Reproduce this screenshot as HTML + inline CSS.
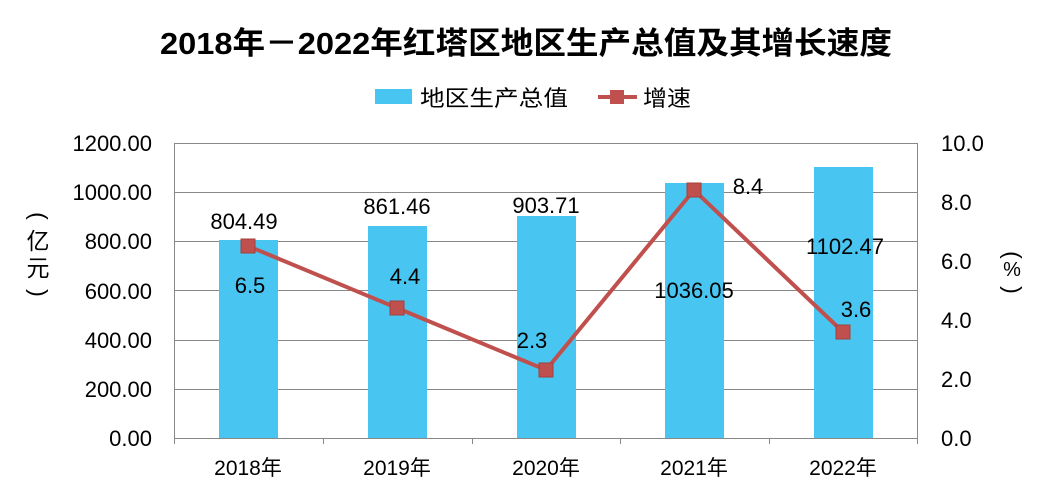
<!DOCTYPE html>
<html><head><meta charset="utf-8"><style>
html,body{margin:0;padding:0;background:#fff}
svg{display:block}
text{font-family:"Liberation Sans","Noto Sans CJK SC",sans-serif;fill:#000}
</style></head><body>
<svg width="1056" height="500" xmlns="http://www.w3.org/2000/svg">
<text x="160" y="54" font-size="31" font-weight="bold" textLength="732" lengthAdjust="spacingAndGlyphs">2018年－2022年红塔区地区生产总值及其增长速度</text>
<rect x="375" y="89" width="37" height="15" fill="#49C5F1"/>
<text x="420" y="106" font-size="22" textLength="148" lengthAdjust="spacingAndGlyphs">地区生产总值</text>
<line x1="598" y1="97" x2="637" y2="97" stroke="#C0504D" stroke-width="4"/>
<rect x="610" y="90" width="14" height="14" fill="#C0504D"/>
<text x="643" y="106" font-size="22" textLength="48" lengthAdjust="spacingAndGlyphs">增速</text>
<g stroke="#888" stroke-width="1">
<line x1="175" y1="143.5" x2="917" y2="143.5"/>
<line x1="175" y1="192.5" x2="917" y2="192.5"/>
<line x1="175" y1="241.5" x2="917" y2="241.5"/>
<line x1="175" y1="290.5" x2="917" y2="290.5"/>
<line x1="175" y1="340.5" x2="917" y2="340.5"/>
<line x1="175" y1="389.5" x2="917" y2="389.5"/>
<line x1="175" y1="438.5" x2="917" y2="438.5"/>
<line x1="174.5" y1="143" x2="174.5" y2="444"/>
<line x1="917.5" y1="143" x2="917.5" y2="444"/>
<line x1="323.5" y1="438" x2="323.5" y2="444"/>
<line x1="472.5" y1="438" x2="472.5" y2="444"/>
<line x1="620.5" y1="438" x2="620.5" y2="444"/>
<line x1="769.5" y1="438" x2="769.5" y2="444"/>
</g>
<g fill="#49C5F1">
<rect x="219" y="240" width="59" height="198"/>
<rect x="368" y="226" width="59" height="212"/>
<rect x="517" y="216" width="59" height="222"/>
<rect x="665" y="183" width="59" height="255"/>
<rect x="814" y="167" width="59" height="271"/>
</g>
<g font-size="22" text-anchor="end">
<text x="152" y="151">1200.00</text>
<text x="152" y="200">1000.00</text>
<text x="152" y="249">800.00</text>
<text x="152" y="299">600.00</text>
<text x="152" y="348">400.00</text>
<text x="152" y="397">200.00</text>
<text x="152" y="446">0.00</text>
</g>
<g font-size="22">
<text x="941" y="151">10.0</text>
<text x="941" y="210">8.0</text>
<text x="941" y="269">6.0</text>
<text x="941" y="328">4.0</text>
<text x="941" y="387">2.0</text>
<text x="941" y="446">0.0</text>
</g>
<g font-size="21" text-anchor="middle">
<text x="248" y="475">2018年</text>
<text x="397" y="475">2019年</text>
<text x="546" y="475">2020年</text>
<text x="694" y="475">2021年</text>
<text x="843" y="475">2022年</text>
</g>
<g font-size="23" text-anchor="middle">
<text x="38" y="223" transform="rotate(90 38 216)">(</text>
<text x="38" y="249">亿</text>
<text x="38" y="276">元</text>
<text x="38" y="300" transform="rotate(90 38 293)">)</text>
<text x="1012" y="262" transform="rotate(90 1012 255)">(</text>
<text x="1012" y="276" font-size="20">%</text>
<text x="1012" y="297" transform="rotate(90 1012 290)">)</text>
</g>
<polyline points="248,246 397,308 546,370 694,190 843,332" fill="none" stroke="#C0504D" stroke-width="4"/>
<g fill="#C0504D" stroke="#A3403D" stroke-width="1">
<rect x="241" y="239" width="14" height="14"/>
<rect x="390" y="301" width="14" height="14"/>
<rect x="539" y="363" width="14" height="14"/>
<rect x="687" y="183" width="14" height="14"/>
<rect x="836" y="325" width="14" height="14"/>
</g>
<g font-size="22" text-anchor="middle">
<text x="244" y="229">804.49</text>
<text x="397" y="214">861.46</text>
<text x="546" y="213">903.71</text>
<text x="694" y="298">1036.05</text>
<text x="845" y="254">1102.47</text>
<text x="250" y="293">6.5</text>
<text x="405" y="284">4.4</text>
<text x="532" y="348">2.3</text>
<text x="748" y="194">8.4</text>
<text x="856" y="317">3.6</text>
</g>
</svg>
</body></html>
